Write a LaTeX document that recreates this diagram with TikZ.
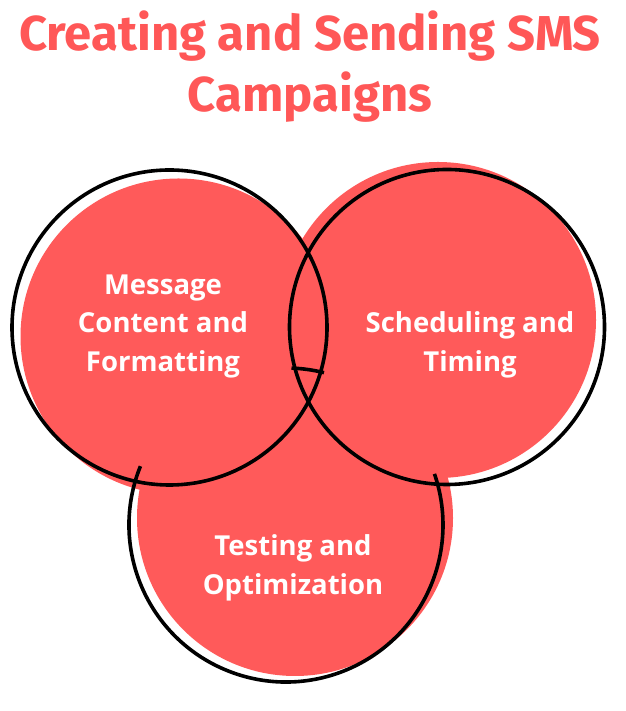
\documentclass[tikz,border=0pt]{standalone}
\usepackage{fontspec}
\setmainfont{Open Sans}
\newfontfamily\titlefont{Fira Sans}
\definecolor{coral}{HTML}{FF5A5A}
\definecolor{titlecol}{HTML}{FF5757}
\begin{document}
\begin{tikzpicture}[x=1pt,y=1pt,
  blob/.style={circle,fill=coral,draw=none,inner sep=0pt,minimum size=316pt},
  ring/.style={circle,draw=black,line width=3.6pt,inner sep=0pt,minimum size=315pt},
  arcline/.style={draw=black,line width=3.6pt},
  label/.style={text=white,font=\fontsize{27.5}{38.5}\selectfont\bfseries,align=center},
  ttl/.style={text=titlecol,font=\titlefont\fontsize{49}{60}\selectfont\bfseries}]
\useasboundingbox (0,0) rectangle (625,711);
% fills
\node[blob] (f1) at (178.5,374.5) {};
\node[blob] (f2) at (438,391) {};
\node[blob] (f3) at (295,193) {};
% outlines
\node[ring] (o1) at (169.5,383.5) {};
\node[ring] (o2) at (447,384) {};
\coordinate (c3) at (286,186);
\draw[arcline] ([shift={(158:157)}]c3) arc[start angle=158,end angle=379,radius=157];
\draw[arcline] ([shift={(76:157)}]c3) arc[start angle=76,end angle=88,radius=157];
% title
\node[ttl] (t1) at (310,675) {Creating and Sending SMS};
\node[ttl] (t2) at (310,614) {Campaigns};
% labels
\node[label] (l1) at (163,385) {Message\\Content and\\Formatting};
\node[label] (l2) at (470,366) {Scheduling and\\Timing};
\node[label] (l3) at (293,143) {Testing and\\Optimization};
\end{tikzpicture}
\end{document}
